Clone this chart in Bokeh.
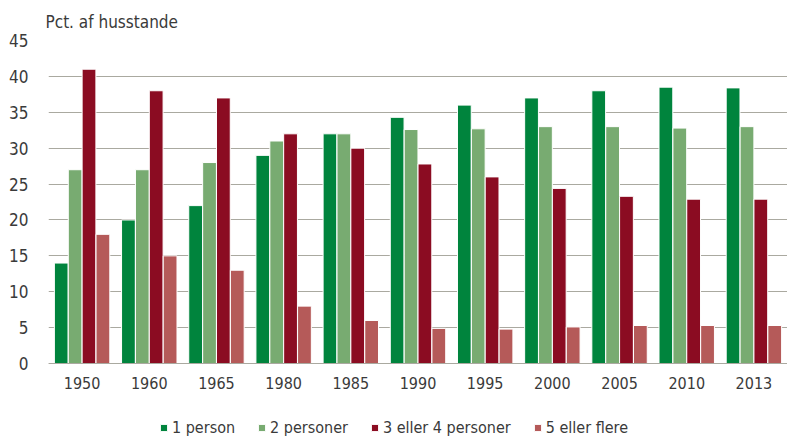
from bokeh.plotting import figure
from bokeh.models import FactorRange, Legend, LegendItem, ColumnDataSource
from bokeh.transform import dodge
from bokeh.embed import file_html
from bokeh.resources import INLINE

years = ["1950", "1960", "1965", "1980", "1985", "1990", "1995", "2000", "2005", "2010", "2013"]
one_person = [14, 20, 22, 29, 32, 34.3, 36.0, 37.0, 38.0, 38.5, 38.4]
two_persons = [27, 27, 28, 31, 32, 32.6, 32.7, 33.0, 33.0, 32.8, 33.0]
three_four = [41, 38, 37, 32, 30, 27.8, 26.0, 24.4, 23.3, 22.9, 22.9]
five_plus = [18, 15, 13, 8, 6, 4.9, 4.8, 5.1, 5.3, 5.3, 5.3]
series_names = ["1 person", "2 personer", "3 eller 4 personer", "5 eller flere"]
y_ticks = [0, 5, 10, 15, 20, 25, 30, 35, 40, 45]

colors = ["#00843d", "#78ab71", "#8b0c22", "#b55a59"]
FONT = "DejaVu Sans Condensed"
TEXT = "#3a3a3a"
GRID = "#aaa9a0"

src = ColumnDataSource(dict(year=years, s1=one_person, s2=two_persons, s3=three_four, s4=five_plus))

p = figure(x_range=FactorRange(factors=years, range_padding=0), y_range=(-10.3, 45),
           width=787, height=437, output_backend="svg", toolbar_location=None,
           min_border_left=48, min_border_right=0, min_border_top=39, min_border_bottom=0)

p.title.text = "Pct. af husstande"
p.title.text_font = FONT
p.title.text_font_size = "17px"
p.title.text_font_style = "normal"
p.title.text_color = TEXT
p.title.offset = -3
p.title.standoff = 18

w = 0.205
offs = [-0.31, -0.103, 0.103, 0.31]
cols = ["s1", "s2", "s3", "s4"]
items = []
for c, o, col, name in zip(cols, offs, colors, series_names):
    r = p.vbar(x=dodge("year", o, range=p.x_range), top=c, width=w, bottom=0, source=src,
               fill_color=col, line_color="white", line_width=1)
    items.append(LegendItem(label=name, renderers=[r]))

p.outline_line_color = None
p.background_fill_color = "white"
p.xgrid.grid_line_color = None
p.ygrid.grid_line_color = GRID
p.ygrid.grid_line_width = 1
p.yaxis.ticker = y_ticks
p.yaxis.axis_line_color = None
p.yaxis.major_tick_line_color = None
p.yaxis.minor_tick_line_color = None
p.yaxis.major_label_text_font = FONT
p.yaxis.major_label_text_font_size = "17px"
p.yaxis.major_label_text_color = TEXT
p.yaxis.major_label_standoff = 14

p.xaxis.fixed_location = 0
p.xaxis.axis_line_color = GRID
p.xaxis.major_tick_line_color = None
p.xaxis.major_label_text_font = FONT
p.xaxis.major_label_text_font_size = "16px"
p.xaxis.major_label_text_color = TEXT
p.xaxis.major_label_standoff = 7

legend = Legend(items=items, orientation="horizontal", location=(111, 0),
                label_text_font=FONT, label_text_font_size="16px", label_text_color=TEXT,
                glyph_width=9, glyph_height=9, label_standoff=4, spacing=22, label_height=14,
                border_line_color=None, background_fill_alpha=0, padding=0, margin=0)
p.add_layout(legend, "center")

open("out.html", "w").write(file_html(p, INLINE))
